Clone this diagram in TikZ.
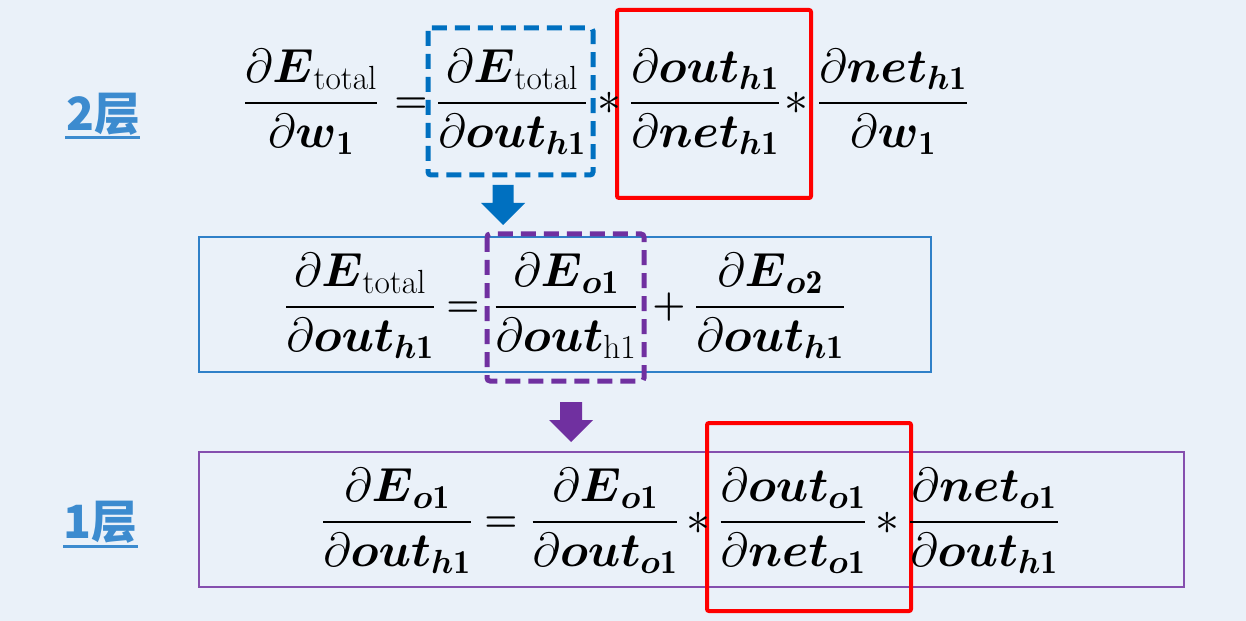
\documentclass[tikz,border=0pt]{standalone}
\usepackage{fix-cm}
\usepackage{amsmath}
\usepackage{fontspec}
\newfontfamily\cjkfont{Noto Sans CJK SC}
\definecolor{bgc}{HTML}{EAF1F9}
\definecolor{lblue}{HTML}{3C8BCF}
\definecolor{dblue}{HTML}{0070C0}
\definecolor{mblue}{HTML}{2F80C8}
\definecolor{purp}{HTML}{7030A0}
\definecolor{redc}{HTML}{FF0000}
\newcommand\bv[1]{\boldsymbol{#1}}
\newcommand\Fr[2]{\genfrac{}{}{2.8bp}{0}{#1}{#2}}
\newcommand\Etot{\partial\bv{E}_{\mathrm{total}}}
\newcommand\outh{\partial\bv{out}_{\bv{h}\mathbf{1}}}
\newcommand\neth{\partial\bv{net}_{\bv{h}\mathbf{1}}}
\newcommand\wone{\partial\bv{w}_{\mathbf{1}}}
\newcommand\Eo[1]{\partial\bv{E}_{\bv{o}\mathbf{#1}}}
\newcommand\outo{\partial\bv{out}_{\bv{o}\mathbf{1}}}
\newcommand\neto{\partial\bv{net}_{\bv{o}\mathbf{1}}}
\begin{document}
\begin{tikzpicture}[x=1bp,y=-1bp,
  eq/.style={inner sep=0pt, anchor=base, font=\fontsize{48}{56}\selectfont},
  op/.style={inner sep=0pt, anchor=base, font=\fontsize{38}{44}\selectfont},
  lbl/.style={inner sep=0pt, text=lblue, font=\fontsize{46}{52}\selectfont\cjkfont\bfseries},
  uline/.style={draw=lblue, line width=3bp},
  dashbox/.style={line width=5bp, dash pattern=on 15bp off 8bp, rounded corners=3bp},
  redbox/.style={draw=redc, line width=4bp, rounded corners=2bp},
  thinbox/.style={line width=1.5bp}]
\fill[bgc] (0,0) rectangle (1246,621);
\useasboundingbox (0,0) rectangle (1246,621);
% labels
\node[lbl] (l2) at (103,114) {2层};
\draw[uline] (65,138) -- (140,138);
\node[lbl] (l1) at (100,522) {1层};
\draw[uline] (63,546) -- (138,546);
% boxes
\draw[mblue, thinbox] (199,237) rectangle (931,372);
\draw[purp!85, thinbox] (199,452) rectangle (1184,587);
\draw[dblue, dashbox] (428,28) rectangle (593,175);
\draw[purp, dashbox] (487,234) rectangle (644,381);
\draw[redbox] (617,10) rectangle (811,198);
\draw[redbox] (707,423) rectangle (911,611);
% top equation (fraction line y=103)
\node[eq] (f1) at (311,115) {$\Fr{\Etot}{\wone}$};
\node[op] (e1) at (411,112.5) {$\boldsymbol{=}$};
\node[eq] (f2) at (512,115) {$\Fr{\Etot}{\outh}$};
\node[eq] (s1) at (609,115) {$\ast$};
\node[eq] (f3) at (705,115) {$\Fr{\outh}{\neth}$};
\node[eq] (s2) at (796,115) {$\ast$};
\node[eq] (f4) at (893,115) {$\Fr{\neth}{\wone}$};
% middle equation (fraction line y=307)
\node[eq] (f5) at (360,319) {$\Fr{\Etot}{\outh}$};
\node[op] (e2) at (463,316.5) {$\boldsymbol{=}$};
\node[eq] (f6) at (566,319) {$\Fr{\Eo{1}}{\partial\bv{out}_{\mathrm{h1}}}$};
\node[op] (p1) at (669,316.5) {$\boldsymbol{+}$};
\node[eq] (f7) at (770,319) {$\Fr{\Eo{2}}{\outh}$};
% bottom equation (fraction line y=522)
\node[eq] (f8) at (397,534) {$\Fr{\Eo{1}}{\outh}$};
\node[op] (e3) at (501,531.5) {$\boldsymbol{=}$};
\node[eq] (f9) at (605,534) {$\Fr{\Eo{1}}{\outo}$};
\node[eq] (s3) at (698,534) {$\ast$};
\node[eq] (f10) at (793,534) {$\Fr{\outo}{\neto}$};
\node[eq] (s4) at (887,534) {$\ast$};
\node[eq] (f11) at (984,534) {$\Fr{\neto}{\outh}$};
% block arrows
\coordinate (a1) at (503,185);
\fill[dblue] (a1) ++(-10.5,0) -- ++(21,0) -- ++(0,18) -- ++(11.5,0) -- ++(-22,22) -- ++(-22,-22) -- ++(11.5,0) -- cycle;
\coordinate (a2) at (571,402);
\fill[purp] (a2) ++(-11,0) -- ++(22,0) -- ++(0,18) -- ++(11,0) -- ++(-22,22) -- ++(-22,-22) -- ++(11,0) -- cycle;
\end{tikzpicture}
\end{document}
